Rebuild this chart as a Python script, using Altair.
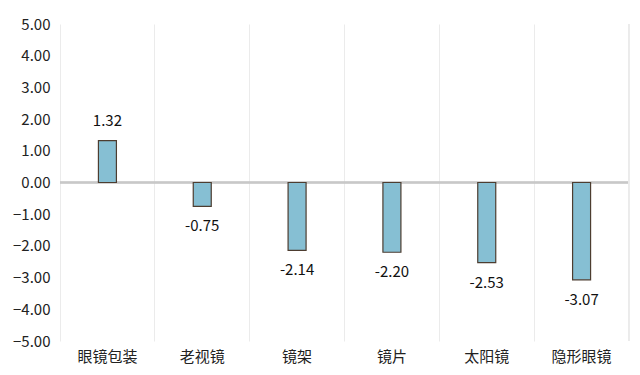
import altair as alt
import pandas as pd

categories = ["眼镜包装", "老视镜", "镜架", "镜片", "太阳镜", "隐形眼镜"]
values = [1.32, -0.75, -2.14, -2.20, -2.53, -3.07]
y_ticks = [-5, -4, -3, -2, -1, 0, 1, 2, 3, 4, 5]

df = pd.DataFrame({"cat": categories, "val": values})
df["label"] = df["val"].map(lambda v: f"{v:.2f}")
df["zero"] = 0.0

W, H = 569, 317
FONT = "Noto Sans CJK SC"

x_axis = alt.Axis(title=None, labelAngle=0, domain=False, ticks=False,
                  grid=True, bandPosition=0, gridColor="#ebebeb",
                  labelFontSize=15, labelFont=FONT, labelColor="#222",
                  labelPadding=8)
y_axis = alt.Axis(title=None, values=y_ticks, format=".2f", grid=False,
                  domain=False, ticks=False, labelFontSize=15,
                  labelOverlap=False, labelFlush=False,
                  labelFont=FONT, labelColor="#222", labelPadding=10)
x_scale = alt.Scale(paddingInner=0, paddingOuter=0)
y_scale = alt.Scale(domain=[-5, 5], nice=False)

def X():
    return alt.X("cat:N", sort=categories, scale=x_scale, axis=x_axis)

def Y(field):
    return alt.Y(field, scale=y_scale, axis=y_axis)

base = alt.Chart(df)

zero = base.mark_rule(color="#c8c8c8", strokeWidth=1.3).encode(
    y=Y("zero:Q"))

bars = base.mark_bar(size=18, fill="#86bfd3", stroke="#4d3d30",
                     strokeWidth=1.2).encode(x=X(), y=Y("val:Q"), y2="zero:Q")

right_line = base.mark_rule(color="#ebebeb").encode(
    x=alt.value(W), y=alt.value(0), y2=alt.value(H))

pos_txt = base.transform_filter("datum.val >= 0").mark_text(
    dy=-20, fontSize=15, font=FONT, color="#111", baseline="middle").encode(
    x=X(), y=Y("val:Q"), text="label:N")
neg_txt = base.transform_filter("datum.val < 0").mark_text(
    dy=20, fontSize=15, font=FONT, color="#111", baseline="middle").encode(
    x=X(), y=Y("val:Q"), text="label:N")

chart = alt.layer(zero, bars, right_line, pos_txt, neg_txt).properties(
    width=W, height=H,
    autosize=alt.AutoSizeParams(type="none"),
    padding={"left": 52, "top": 16, "right": 3, "bottom": 26},
).configure_view(stroke=None).configure_axis(labelOverlap=False)

chart.save("out.html", embed_options={"renderer": "svg", "actions": False})
